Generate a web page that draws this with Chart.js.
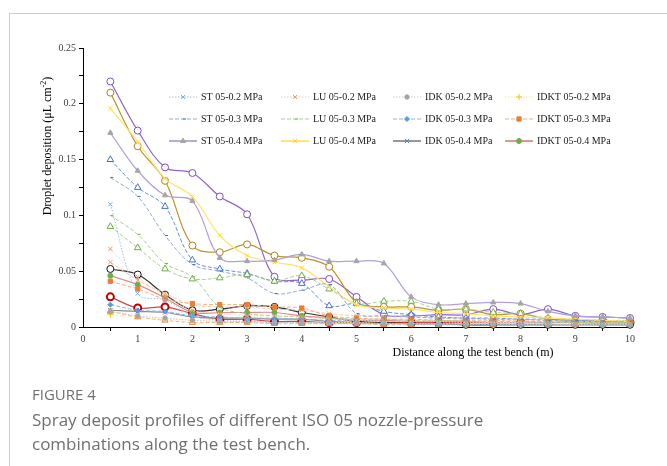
<!DOCTYPE html>
<html>
<head>
<meta charset="utf-8">
<script src="https://cdn.jsdelivr.net/npm/chart.js@4.4.1/dist/chart.umd.min.js"></script>
<style>
  body { margin: 0; background: #fff; }
  #wrap { position: relative; width: 667px; height: 466px; overflow: hidden; background: #fff; }
  #card { position: absolute; left: 9px; top: 13px; width: 720px; height: 520px;
          border-left: 1.5px solid #cdcdcd; border-top: 1.5px solid #cdcdcd; }
  #chart { position: absolute; left: 0; top: 0; }
  .fig { position: absolute; left: 32px; top: 384px; font: 15px "Open Sans", sans-serif; color: #707070; }
  .cap { position: absolute; left: 32px; top: 408px; font: 17px/24px "Open Sans", sans-serif; color: #707070; }
</style>
</head>
<body>
<div id="wrap">
  <div id="card"></div>
  <canvas id="chart" width="667" height="466"></canvas>
  <div class="fig">FIGURE 4</div>
  <div class="cap">Spray deposit profiles of different ISO 05 nozzle-pressure<br>combinations along the test bench.</div>
</div>
<script>
// distance along the bench (m)
const distances = [0.5, 1, 1.5, 2, 2.5, 3, 3.5, 4, 4.5, 5, 5.5, 6, 6.5, 7, 7.5, 8, 8.5, 9, 9.5, 10];

// droplet deposition (uL cm-2)
const st02 = [0.110, 0.030, 0.024, 0.010, 0.006, 0.005, 0.004, 0.004, 0.003, 0.003, 0.003, 0.003, 0.002, 0.002, 0.002, 0.002, 0.002, 0.002, 0.002, 0.002];
const lu02 = [0.070, 0.045, 0.028, 0.015, 0.012, 0.010, 0.010, 0.009, 0.007, 0.006, 0.005, 0.005, 0.005, 0.004, 0.004, 0.004, 0.003, 0.003, 0.003, 0.003];
const idk02 = [0.014, 0.010, 0.008, 0.006, 0.005, 0.005, 0.004, 0.004, 0.004, 0.003, 0.003, 0.003, 0.003, 0.003, 0.003, 0.002, 0.002, 0.002, 0.002, 0.002];
const idkt02 = [0.011, 0.009, 0.007, 0.006, 0.005, 0.005, 0.004, 0.004, 0.004, 0.004, 0.003, 0.003, 0.003, 0.003, 0.003, 0.003, 0.003, 0.002, 0.002, 0.002];
const st03 = [0.134, 0.117, 0.082, 0.056, 0.050, 0.044, 0.030, 0.033, 0.038, 0.012, 0.010, 0.009, 0.008, 0.008, 0.007, 0.007, 0.006, 0.006, 0.005, 0.005];
const lu03 = [0.100, 0.083, 0.057, 0.045, 0.018, 0.012, 0.010, 0.009, 0.008, 0.007, 0.007, 0.006, 0.006, 0.005, 0.005, 0.005, 0.004, 0.004, 0.004, 0.004];
const idk03 = [0.020, 0.015, 0.014, 0.010, 0.009, 0.008, 0.008, 0.007, 0.006, 0.006, 0.005, 0.005, 0.005, 0.005, 0.004, 0.004, 0.004, 0.004, 0.004, 0.003];
const idkt03 = [0.041, 0.034, 0.025, 0.021, 0.020, 0.020, 0.018, 0.017, 0.010, 0.008, 0.007, 0.007, 0.006, 0.006, 0.006, 0.005, 0.005, 0.005, 0.004, 0.004];
const st04 = [0.174, 0.140, 0.118, 0.113, 0.062, 0.059, 0.060, 0.065, 0.059, 0.059, 0.057, 0.027, 0.020, 0.021, 0.022, 0.021, 0.014, 0.010, 0.009, 0.008];
const lu04 = [0.196, 0.166, 0.133, 0.117, 0.082, 0.064, 0.058, 0.053, 0.036, 0.020, 0.017, 0.016, 0.013, 0.012, 0.010, 0.009, 0.008, 0.007, 0.006, 0.005];
const idk04 = [0.015, 0.014, 0.013, 0.009, 0.008, 0.008, 0.007, 0.007, 0.005, 0.004, 0.003, 0.003, 0.003, 0.002, 0.002, 0.002, 0.002, 0.002, 0.002, 0.002];
const idkt04 = [0.046, 0.038, 0.026, 0.013, 0.013, 0.013, 0.013, 0.010, 0.008, 0.006, 0.006, 0.005, 0.005, 0.005, 0.004, 0.004, 0.004, 0.004, 0.003, 0.003];

// series drawn in the plot but not listed in its legend
const extraPurple = [0.220, 0.176, 0.143, 0.138, 0.117, 0.101, 0.045, 0.042, 0.043, 0.027, 0.011, 0.010, 0.011, 0.011, 0.016, 0.011, 0.016, 0.010, 0.009, 0.008];
const extraOlive = [0.210, 0.162, 0.131, 0.073, 0.067, 0.074, 0.064, 0.062, 0.054, 0.022, 0.018, 0.018, 0.015, 0.016, 0.011, 0.012, 0.007, 0.006, 0.005, 0.004];
const extraBlack = [0.052, 0.047, 0.029, 0.015, 0.016, 0.019, 0.018, 0.013, 0.009, 0.005, 0.004, 0.003, 0.003, 0.002, 0.002, 0.002, 0.002, 0.002, 0.002, 0.002];
const extraBlueTri = [0.150, 0.125, 0.108, 0.060, 0.052, 0.048, 0.041, 0.039, 0.019, 0.021, 0.014, 0.011, 0.009, 0.008, 0.008, 0.007, 0.007, 0.006, 0.006, 0.005];
const extraGreenTri = [0.090, 0.071, 0.052, 0.043, 0.044, 0.047, 0.041, 0.046, 0.034, 0.021, 0.023, 0.023, 0.016, 0.016, 0.013, 0.012, 0.008, 0.007, 0.006, 0.006];
const extraOrangeX = [0.058, 0.042, 0.030, 0.020, 0.018, 0.018, 0.016, 0.015, 0.012, 0.010, 0.009, 0.009, 0.008, 0.007, 0.007, 0.006, 0.006, 0.005, 0.005, 0.005];
const extraOrangeTri = [0.014, 0.009, 0.006, 0.004, 0.004, 0.004, 0.003, 0.003, 0.003, 0.003, 0.002, 0.002, 0.002, 0.002, 0.002, 0.002, 0.002, 0.002, 0.002, 0.002];
const extraRed = [0.027, 0.017, 0.018, 0.012, 0.007, 0.007, 0.005, 0.005, 0.004, 0.004, 0.004, 0.004, 0.004, 0.004, 0.004, 0.004, 0.004, 0.005, 0.005, 0.004];

const dotted = [1.5, 1.5];
const dashed = [4, 2];

// line and marker look for each series
const series = [
  { label: "ST 05-0.2 MPa", data: st02, line: "#9DC3E6", dash: dotted, mark: "crossRot", mc: "#7FB0DE", fill: "#7FB0DE", r: 3 },
  { label: "LU 05-0.2 MPa", data: lu02, line: "#F8CBAD", dash: dotted, mark: "crossRot", mc: "#F09A6A", fill: "#F09A6A", r: 3 },
  { label: "IDK 05-0.2 MPa", data: idk02, line: "#C9C9C9", dash: dotted, mark: "circle", mc: "#A5A5A5", fill: "#A5A5A5", r: 2.2 },
  { label: "IDKT 05-0.2 MPa", data: idkt02, line: "#FFE699", dash: dotted, mark: "cross", mc: "#FFC000", fill: "#FFC000", r: 3 },
  { label: "ST 05-0.3 MPa", data: st03, line: "#8FAADC", dash: dashed, mark: "dash", mc: "#4472C4", fill: "#4472C4", r: 3 },
  { label: "LU 05-0.3 MPa", data: lu03, line: "#A9D18E", dash: dashed, mark: "dash", mc: "#70AD47", fill: "#70AD47", r: 3 },
  { label: "IDK 05-0.3 MPa", data: idk03, line: "#8DB8E2", dash: dashed, mark: "rectRot", mc: "#5B9BD5", fill: "#5B9BD5", r: 2.5 },
  { label: "IDKT 05-0.3 MPa", data: idkt03, line: "#F4B183", dash: dashed, mark: "rect", mc: "#ED7D31", fill: "#ED7D31", r: 3 },
  { label: "ST 05-0.4 MPa", data: st04, line: "#B4A0D8", dash: [], mark: "triangle", mc: "#A5A5A5", fill: "#A5A5A5", r: 3 },
  { label: "LU 05-0.4 MPa", data: lu04, line: "#FFE36E", dash: [], mark: "crossRot", mc: "#FFD440", fill: "#FFD440", r: 3 },
  { label: "IDK 05-0.4 MPa", data: idk04, line: "#8C8C8C", dash: [], mark: "crossRot", mc: "#5B7DB8", fill: "#5B7DB8", r: 3 },
  { label: "IDKT 05-0.4 MPa", data: idkt04, line: "#E48A8A", dash: [], mark: "circle", mc: "#70AD47", fill: "#70AD47", r: 2.5 },
  { label: "", data: extraOrangeX, line: "#F8CBAD", dash: dashed, mark: "crossRot", mc: "#F09A6A", fill: "#F09A6A", r: 3 },
  { label: "", data: extraOrangeTri, line: "#F4B183", dash: dashed, mark: "triangle", mc: "#ED7D31", fill: "#fff", r: 3.5 },
  { label: "", data: extraGreenTri, line: "#A9D18E", dash: dashed, mark: "triangle", mc: "#70AD47", fill: "#fff", r: 3.8 },
  { label: "", data: extraBlueTri, line: "#6A8FD0", dash: dashed, mark: "triangle", mc: "#4472C4", fill: "#fff", r: 3.8 },
  { label: "", data: extraBlack, line: "#333333", dash: [], mark: "circle", mc: "#111111", fill: "#fff", r: 3.5 },
  { label: "", data: extraOlive, line: "#B8962E", dash: [], mark: "circle", mc: "#A8841A", fill: "#fff", r: 3.5 },
  { label: "", data: extraPurple, line: "#8E65C9", dash: [], mark: "circle", mc: "#7F4FC0", fill: "#fff", r: 3.5 },
  { label: "", data: extraRed, line: "#D04848", dash: [], mark: "circle", mc: "#C00000", fill: "#fff", r: 3.5, bw: 2 },
];

const datasets = series.map(function (s) {
  return {
    label: s.label,
    data: s.data.map(function (v, i) { return { x: distances[i], y: v }; }),
    borderColor: s.line,
    borderDash: s.dash,
    borderWidth: s.dash.length ? 1 : 1.2,
    tension: 0.35,
    pointStyle: s.mark,
    pointRadius: s.r,
    pointBorderColor: s.mc,
    pointBackgroundColor: s.fill,
    pointBorderWidth: s.bw || 1,
    clip: false,
  };
});

const serif = "'Liberation Serif', 'Times New Roman', serif";

// legend (4 columns x 3 rows, inside the plot) and axis titles
const overlay = {
  id: "overlay",
  afterDraw: function (chart) {
    const ctx = chart.ctx;
    ctx.save();
    for (let i = 0; i < 12; i++) {
      const s = series[i];
      const col = i % 4, row = Math.floor(i / 4);
      const x0 = 169 + col * 112, y = 97 + row * 22;
      ctx.strokeStyle = s.line;
      ctx.lineWidth = s.dash.length ? 1.2 : 1.8;
      ctx.setLineDash(s.dash);
      ctx.beginPath();
      ctx.moveTo(x0, y);
      ctx.lineTo(x0 + 28, y);
      ctx.stroke();
      ctx.setLineDash([]);
      ctx.strokeStyle = s.mc;
      ctx.fillStyle = s.fill;
      ctx.lineWidth = 1;
      Chart.helpers.drawPoint(ctx, { pointStyle: s.mark, radius: s.r, rotation: 0, borderWidth: 1 }, x0 + 14, y);
      ctx.fillStyle = "#222";
      ctx.font = "10px " + serif;
      ctx.textBaseline = "middle";
      ctx.textAlign = "left";
      ctx.fillText(s.label, x0 + 32, y + 0.5);
    }

    // x axis title
    ctx.fillStyle = "#000";
    ctx.font = "12px " + serif;
    ctx.textAlign = "center";
    ctx.textBaseline = "middle";
    ctx.fillText("Distance along the test bench (m)", 473, 353);

    // y axis title, rotated, with superscript -2
    ctx.translate(48, 146);
    ctx.rotate(-Math.PI / 2);
    const main = "Droplet deposition (\u03bcL cm";
    ctx.font = "12px " + serif;
    const w1 = ctx.measureText(main).width;
    const w3 = ctx.measureText(")").width;
    ctx.font = "8px " + serif;
    const w2 = ctx.measureText("-2").width;
    let x = -(w1 + w2 + w3) / 2;
    ctx.textAlign = "left";
    ctx.font = "12px " + serif;
    ctx.fillText(main, x, 0);
    ctx.font = "8px " + serif;
    ctx.fillText("-2", x + w1, -4);
    ctx.font = "12px " + serif;
    ctx.fillText(")", x + w1 + w2, 0);
    ctx.restore();
  },
};

const ctxDep = document.getElementById("chart").getContext("2d");
const depositionChart = new Chart(ctxDep, {
  type: "line",
  data: { datasets: datasets },
  options: {
    responsive: false,
    animation: false,
    devicePixelRatio: 1,
    layout: { padding: { left: 0, right: 37, top: 48, bottom: 119 } },
    plugins: { legend: { display: false }, tooltip: { enabled: false } },
    scales: {
      x: {
        type: "linear",
        min: 0,
        max: 10,
        afterFit: function (scale) { scale.height = 20; },
        border: { display: true, color: "#000", width: 1 },
        grid: {
          drawOnChartArea: false,
          tickLength: 4,
          tickColor: function (c) { return c.tick && c.tick.value % 1 !== 0 ? "#000" : "rgba(0,0,0,0)"; },
        },
        ticks: {
          stepSize: 0.5,
          autoSkip: false,
          maxRotation: 0,
          padding: 2,
          color: "#404040",
          font: { family: serif, size: 10 },
          callback: function (value) { return value % 1 === 0 ? String(value) : ""; },
        },
      },
      y: {
        min: 0,
        max: 0.25,
        afterFit: function (scale) { scale.width = 83; },
        border: { display: true, color: "#000", width: 1 },
        grid: { drawOnChartArea: false, tickLength: 4, tickColor: "#000" },
        ticks: {
          stepSize: 0.025,
          autoSkip: false,
          padding: 3,
          color: "#404040",
          font: { family: serif, size: 10 },
          callback: function (value) {
            const k = Math.round(value * 1000);
            return k % 50 === 0 ? String(k / 1000) : "";
          },
        },
      },
    },
  },
  plugins: [overlay],
});
</script>
</body>
</html>
